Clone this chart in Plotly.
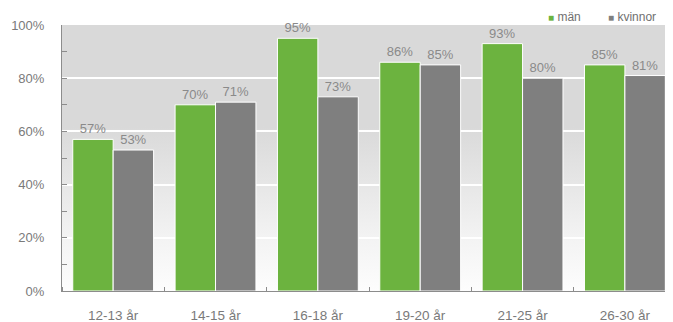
import base64

import plotly.graph_objects as go

categories = ["12-13 år", "14-15 år", "16-18 år", "19-20 år", "21-25 år", "26-30 år"]
man = [57, 70, 95, 86, 93, 85]
kvinnor = [53, 71, 73, 85, 80, 81]
y_ticks = [0, 20, 40, 60, 80, 100]
y_labels = [f"{v}%" for v in y_ticks]
series_names = ["män", "kvinnor"]

GREEN = "#6cb33f"
GRAY = "#7f7f7f"
FONT = "Liberation Sans, Arial, sans-serif"

# gradient plot background as an inline svg (grey at top, fading to white)
svg = (
    '<svg xmlns="http://www.w3.org/2000/svg" width="100" height="100" preserveAspectRatio="none">'
    '<defs><linearGradient id="g" x1="0" y1="0" x2="0" y2="1">'
    '<stop offset="0" stop-color="#d9d9d9"/>'
    '<stop offset="0.38" stop-color="#d9d9d9"/>'
    '<stop offset="0.8" stop-color="#f3f3f3"/>'
    '<stop offset="1" stop-color="#fdfdfd"/>'
    '</linearGradient></defs>'
    '<rect width="100" height="100" fill="url(#g)"/></svg>'
)
bg_src = "data:image/svg+xml;base64," + base64.b64encode(svg.encode()).decode()

x = list(range(len(categories)))

fig = go.Figure()
for name, vals, color in [(series_names[0], man, GREEN), (series_names[1], kvinnor, GRAY)]:
    fig.add_trace(go.Bar(
        x=x, y=vals, name=name,
        marker=dict(color=color, line=dict(color="white", width=1)),
        text=[f"{v}%" for v in vals], textposition="outside", cliponaxis=False,
        textfont=dict(color="#8a8a8a", size=13, family=FONT),
        showlegend=False,
    ))

# small square legend, drawn as annotations (page body has an 8px margin,
# so the figure is sized 8px smaller and margins shifted accordingly)
legend_items = [(series_names[0], GREEN, 0.792), (series_names[1], GRAY, 0.89)]
annotations = []
for name, color, xpos in legend_items:
    annotations.append(dict(
        text=f"<span style='color:{color};font-size:10px'>■</span> {name}",
        xref="paper", yref="paper", x=xpos, y=1.03, xanchor="left", yanchor="middle",
        showarrow=False, font=dict(size=12, color="#707070", family=FONT),
    ))

fig.update_layout(
    width=665, height=314,
    margin=dict(l=54, r=0, t=17, b=31, autoexpand=False),
    paper_bgcolor="white",
    plot_bgcolor="white",
    barmode="group",
    bargap=0.21,
    bargroupgap=0,
    font=dict(family=FONT, size=13, color="#7a7a7a"),
    annotations=annotations,
    images=[dict(
        source=bg_src, xref="x domain", yref="y domain", x=0, y=1,
        sizex=1, sizey=1, sizing="stretch", layer="below",
    )],
    xaxis=dict(
        range=[-0.5, 5.47],
        tickvals=x, ticktext=categories,
        ticks="", showgrid=False, zeroline=False,
        showline=True, linecolor="#8c8c8c", linewidth=1,
        ticklabelstandoff=12, automargin=False,
        tickfont=dict(size=13.5),
        minor=dict(ticks="inside", tick0=0.5, dtick=1, ticklen=4, tickcolor="#8c8c8c"),
        fixedrange=True,
    ),
    yaxis=dict(
        range=[0, 100],
        tickvals=y_ticks, ticktext=y_labels,
        ticks="inside", ticklen=5, tickcolor="#8c8c8c",
        showgrid=True, gridcolor="white", gridwidth=1.5,
        zeroline=False,
        showline=True, linecolor="#8c8c8c", linewidth=1,
        ticklabelstandoff=14, automargin=False,
        minor=dict(ticks="inside", dtick=10, ticklen=5, tickcolor="#8c8c8c", showgrid=False),
        fixedrange=True,
    ),
)

fig.write_html("out.html")
